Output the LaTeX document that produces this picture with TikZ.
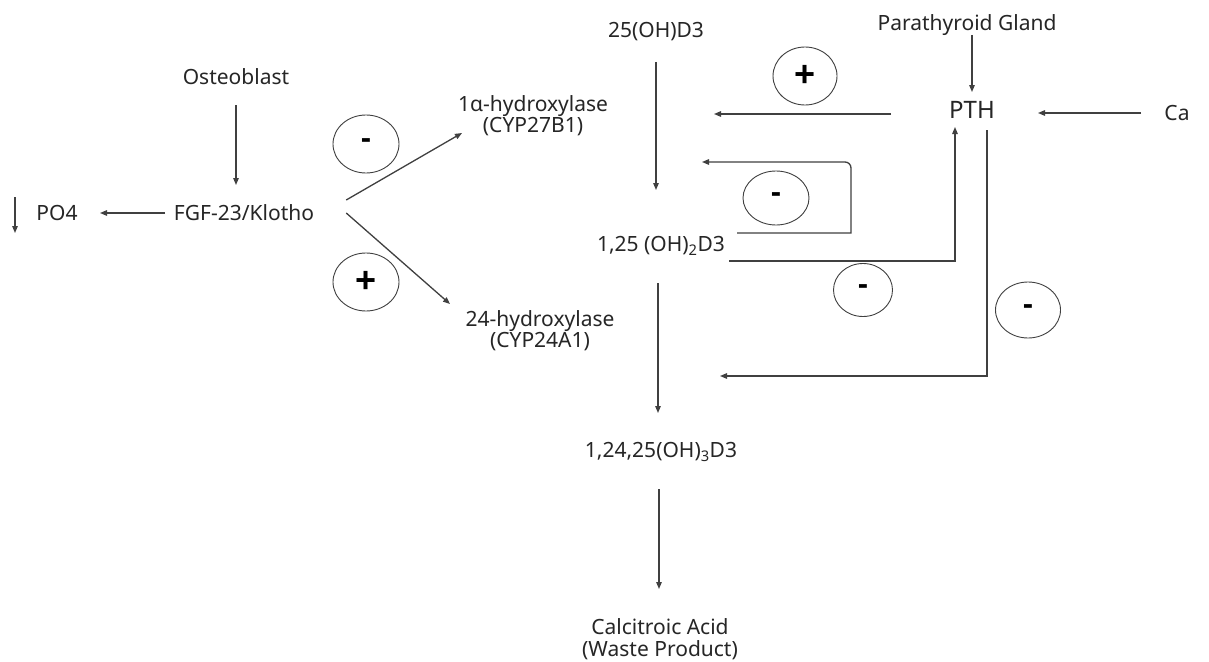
\documentclass[tikz,border=0pt]{standalone}
\usepackage{fontspec}
\setmainfont{Noto Sans}
\newfontfamily\signfont{Liberation Sans}
\usetikzlibrary{arrows.meta,shapes.geometric}
\definecolor{txt}{HTML}{262626}
\definecolor{ln}{HTML}{404040}
\begin{document}
\begin{tikzpicture}[x=1pt,y=-1pt,
  lbl/.style={inner sep=0pt,text=txt,font=\fontsize{21}{24}\selectfont,align=center},
  arr/.style={draw=ln,line width=1.3pt,-{Triangle[length=7pt,width=5.5pt]}},
  sign/.style={ellipse,draw=ln,line width=0.9pt,inner sep=0pt,text=black,font=\signfont\bfseries\fontsize{31}{31}\selectfont},
  plussign/.style={sign,font=\signfont\bfseries\fontsize{36}{36}\selectfont}]
\useasboundingbox[fill=white] (0,0) rectangle (1209,661);
% text nodes
\node[lbl] (osteo) at (236,77) {Osteoblast};
\node[lbl] (fgf) at (244,213) {FGF-23/Klotho};
\node[lbl] (po4) at (57,213) {PO4};
\node[lbl,font=\fontsize{21}{21}\selectfont] (hyd1) at (533,116) {1α-hydroxylase\\(CYP27B1)};
\node[lbl,font=\fontsize{21}{21}\selectfont] (hyd2) at (540,331) {24-hydroxylase\\(CYP24A1)};
\node[lbl] (d25) at (656,32) {25(OH)D3};
\node[lbl] (d125) at (661,246) {1,25 (OH)\textsubscript{2}D3};
\node[lbl] (d12425) at (661,452) {1,24,25(OH)\textsubscript{3}D3};
\node[lbl,font=\fontsize{21}{22}\selectfont] (calc) at (660,639) {Calcitroic Acid\\(Waste Product)};
\node[lbl] (pg) at (967,25) {Parathyroid Gland};
\node[lbl,font=\fontsize{24}{24}\selectfont] (pth) at (972,110) {PTH};
\node[lbl] (ca) at (1177,113) {Ca};
% signs
\node[sign,minimum width=66pt,minimum height=58pt] (m1) at (366,144) {-};
\node[plussign,minimum width=66pt,minimum height=58pt] (p1) at (366,282) {+};
\node[plussign,minimum width=64pt,minimum height=58pt] (p2) at (805,76) {+};
\node[sign,minimum width=66pt,minimum height=54pt] (m2) at (776,198) {-};
\node[sign,minimum width=59pt,minimum height=53pt] (m3) at (863,290) {-};
\node[sign,minimum width=65pt,minimum height=56pt] (m4) at (1028,310) {-};
% free-end coordinates
\coordinate (hydin) at (714,114);
\coordinate (loopc) at (851,162);
\coordinate (loopend) at (702,162);
\coordinate (pthin) at (955,127);
\coordinate (hyd24in) at (720,376);
% connectors
\draw[arr,shorten <=28pt,shorten >=28pt] (osteo.center) -- (osteo.center |- fgf.center);
\draw[arr,shorten <=79pt,shorten >=43pt] (fgf.center) -- (po4.center);
\draw[arr] ([xshift=-42pt,yshift=16pt]po4.center) -- ([xshift=-42pt,yshift=-20pt]po4.center);
\draw[arr] ([xshift=32pt,yshift=13pt]fgf.east) -- ([xshift=-71pt,yshift=-17pt]hyd1.center);
\draw[arr] ([xshift=32pt]fgf.east) -- ([xshift=-90pt,yshift=27pt]hyd2.center);
\draw[arr,shorten <=30pt,shorten >=56pt] (d25.center) -- (d25.center |- d125.center);
\draw[arr,shorten <=81pt] (pth.center |- hydin) -- (hydin);
\draw[arr] ([xshift=76pt,yshift=13pt]d125.center) -- ([yshift=13pt]d125.center -| loopc) [rounded corners=6pt] -- (loopc) -- (loopend);
\draw[arr] ([xshift=68pt,yshift=-15pt]d125.center) -| (pthin);
\draw[arr] ([xshift=15pt,yshift=-20pt]pth.center) |- (hyd24in);
\draw[arr,shorten <=10pt,shorten >=18pt] (pth.center |- pg.center) -- (pth.center);
\draw[arr,shorten <=36pt,shorten >=66pt] (ca.center) -- (ca.center -| pth.center);
\draw[arr,shorten <=37pt,shorten >=39pt] ([xshift=-3pt]d125.center) -- ([xshift=-3pt]d125.center |- d12425.center);
\draw[arr,shorten <=37pt,shorten >=50pt] ([xshift=-2pt]d12425.center) -- ([xshift=-2pt]d12425.center |- calc.center);
\end{tikzpicture}
\end{document}
